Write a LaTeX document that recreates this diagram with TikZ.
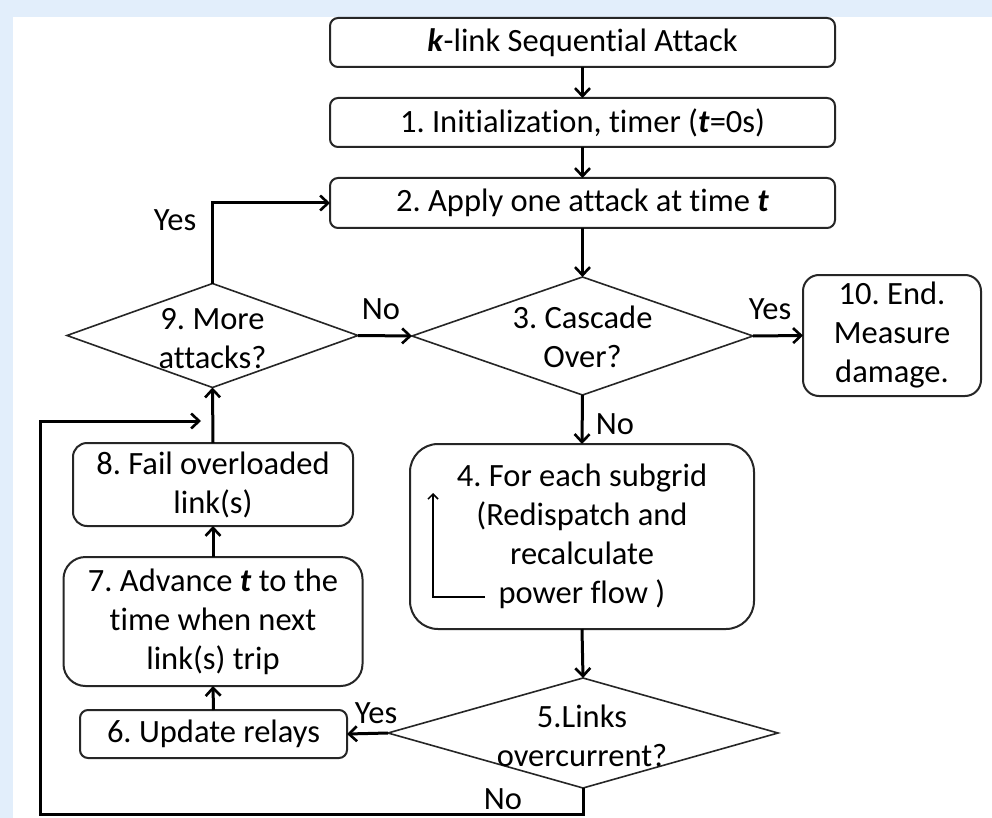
\documentclass[tikz,border=0pt]{standalone}
\usepackage{fontspec}
\setmainfont{Carlito}[Ligatures={NoCommon}]
\usetikzlibrary{arrows.meta,shapes.geometric}
\definecolor{bgblue}{RGB}{226,238,251}
\frenchspacing
\begin{document}
\begin{tikzpicture}[x=1pt,y=-1pt,
 box/.style={draw=black!85,line width=2pt,rounded corners=8pt,inner sep=0pt,outer sep=0pt,align=center,font=\fontsize{32.5}{39}\selectfont},
 dia/.style={draw=black!85,line width=1.6pt,diamond,inner sep=0pt,outer sep=0pt},
 lbl/.style={font=\fontsize{32.5}{39}\selectfont,align=center,inner sep=0pt},
 arr/.style={line width=3pt,-{Straight Barb[length=8pt,width=15pt,line width=2.6pt]}},
 thinarr/.style={line width=1.6pt,-{Straight Barb[length=5pt,width=10pt,line width=1.5pt]}},
]
\fill[bgblue] (0,0) rectangle (992,818);
\fill[white] (13,17) rectangle (992,818);
\useasboundingbox (0,0) rectangle (992,818);

% rectangles
\node[box,minimum width=505pt,minimum height=49pt] (top) at (582.5,42.5) {\textbf{\textit{k}}-link Sequential Attack};
\node[box,minimum width=505pt,minimum height=49pt] (n1) at (582.5,122.5) {1. Initialization, timer (\textbf{\textit{t}}=0s)};
\node[box,minimum width=505pt,minimum height=50pt] (n2) at (582.5,203) {2. Apply one attack at time \textbf{\textit{t}}};
\node[box,rounded corners=16pt,minimum width=178pt,minimum height=121pt] (n10) at (892,335.5) {10. End.\\Measure\\damage.};
\node[box,rounded corners=28pt,minimum width=344pt,minimum height=185pt] (n4) at (582,536.5) {4. For each subgrid\\(Redispatch and\\recalculate\\power flow )};
\node[box,minimum width=267pt,minimum height=48pt] (n6) at (213.5,734) {6. Update relays};
\node[box,rounded corners=22pt,minimum width=299pt,minimum height=129pt] (n7) at (213,621.5) {7. Advance \textbf{\textit{t}} to the\\time when next\\link(s) trip};
\node[box,rounded corners=14pt,minimum width=280pt,minimum height=83pt] (n8) at (213,484.5) {8. Fail overloaded\\link(s)};

% diamonds
\node[dia,minimum width=341pt,minimum height=118pt] (d3) at (582.5,336) {};
\node[lbl] (t3) at (582.5,337) {3. Cascade\\Over?};
\node[dia,minimum width=390pt,minimum height=110pt] (d5) at (583,733) {};
\node[lbl] (t5) at (582,736) {5.Links\\overcurrent?};
\node[dia,minimum width=291pt,minimum height=104pt] (d9) at (212.5,335.5) {};
\node[lbl] (t9) at (212.5,339) {9. More\\attacks?};

% labels
\node[lbl] (ly9) at (175,220) {Yes};
\node[lbl] (ln9) at (381,309) {No};
\node[lbl] (ly3) at (770,309) {Yes};
\node[lbl] (ln3) at (615,424) {No};
\node[lbl] (ly5) at (376,713) {Yes};
\node[lbl] (ln5) at (503,799) {No};

% coordinates
\coordinate (lpA) at (40,814);
\coordinate (lpB) at (40,421);
\coordinate (lpEnd) at (201,421);
\coordinate (inA) at (485,597);
\coordinate (inB) at (433,597);
\coordinate (inC) at (433,493);

% connectors
\draw[arr] (top.south) -- (n1.north);
\draw[arr] (n1.south) -- (n2.north);
\draw[arr] (n2.south) -- (d3.north);
\draw[arr] (d3.east) -- (n10.west);
\draw[arr] (d3.south) -- (n4.north);
\draw[arr] (n4.south) -- (d5.north);
\draw[arr] (d5.west) -- (n6.east);
\draw[arr] (n6.north) -- (n7.south);
\draw[arr] (n7.north) -- (n8.south);
\draw[arr] (n8.north) -- (d9.south);
\draw[arr] (d9.east) -- (d3.west);
\draw[arr] (d9.north) |- (n2.west);
\draw[arr] (d5.south) |- (lpA) -- (lpB) -- (lpEnd);
\draw[thinarr] (inA) -- (inB) -- (inC);
\end{tikzpicture}
\end{document}
